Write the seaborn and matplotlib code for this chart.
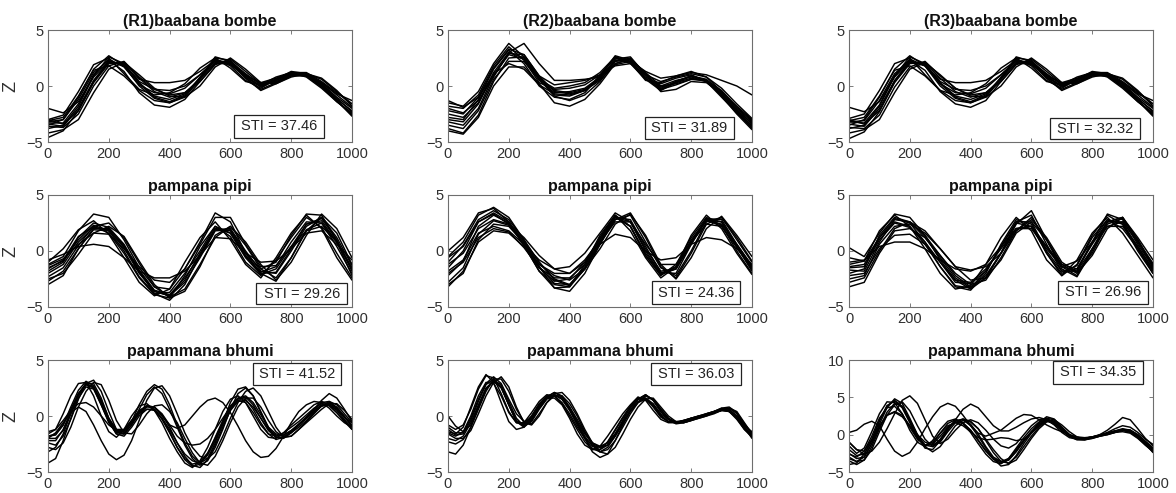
import numpy as np
import pandas as pd
import matplotlib
matplotlib.use("Agg")
import matplotlib.pyplot as plt
from matplotlib.patches import Rectangle
import seaborn as sns

# ---------------- data ----------------
X_COARSE = list(range(0, 1001, 50))   # 21 samples
X_FINE = list(range(0, 1001, 25))     # 41 samples

TITLES = ["(R1)baabana bombe", "(R2)baabana bombe", "(R3)baabana bombe",
          "pampana pipi", "pampana pipi", "pampana pipi",
          "papammana bhumi", "papammana bhumi", "papammana bhumi"]
STI_VALUES = [37.46, 31.89, 32.32, 29.26, 24.36, 26.96, 41.52, 36.03, 34.35]
X_TICKS = [0, 200, 400, 600, 800, 1000]
Y_TICKS_STD = [-5, 0, 5]
Y_TICKS_LAST = [-5, 0, 5, 10]

R1_BAABANA = [
    [-3.3,-3.3,-1.6,1.0,2.4,1.7,0.1,-0.6,-0.7,-0.2,1.0,2.3,2.0,0.8,0.0,0.5,1.1,1.0,0.2,-1.0,-2.0],
    [-3.0,-2.6,-0.5,1.9,2.5,1.1,-0.3,-0.8,-0.6,0.2,1.6,2.5,1.6,0.4,0.1,0.8,1.2,0.8,-0.2,-1.4,-2.4],
    [-3.6,-3.7,-2.5,0.0,1.8,2.2,0.8,-0.3,-0.8,-0.6,0.4,1.9,2.4,1.3,0.2,0.3,0.9,1.1,0.6,-0.5,-1.6],
    [-3.2,-3.0,-1.2,1.2,2.3,1.3,-0.6,-1.7,-1.9,-1.2,0.4,2.0,2.0,0.7,-0.4,0.2,0.9,0.9,0.0,-1.3,-2.6],
    [-2.0,-2.4,-1.4,0.8,2.2,1.8,0.6,0.3,0.3,0.5,1.3,2.3,1.9,0.9,0.3,0.7,1.2,1.1,0.3,-0.7,-1.3],
    [-4.6,-4.0,-2.2,0.4,2.1,2.0,0.3,-0.9,-1.2,-0.7,0.7,2.3,2.1,0.8,-0.1,0.5,1.1,1.0,0.1,-1.2,-2.2],
    [-3.8,-3.5,-1.8,0.9,2.6,2.0,0.2,-1.0,-1.4,-0.8,0.7,2.6,2.2,0.7,-0.3,0.3,1.0,0.9,0.0,-1.3,-2.7],
    [-3.4,-3.6,-2.0,0.5,2.2,1.9,0.4,-0.3,-0.4,0.0,1.0,2.2,2.1,1.0,0.2,0.6,1.2,1.2,0.4,-0.6,-1.6],
    [-3.1,-2.8,-0.9,1.4,1.8,0.9,-0.4,-1.3,-1.5,-0.9,0.8,2.4,1.8,0.5,-0.2,0.6,1.1,0.9,-0.1,-1.4,-2.5],
    [-4.2,-3.9,-3.0,-0.6,1.5,2.1,1.0,-0.2,-0.9,-1.0,0.0,1.7,2.5,1.5,0.3,0.2,0.8,1.1,0.7,-0.4,-1.8],
    [-3.5,-3.0,-1.0,1.5,2.7,1.8,0.0,-1.1,-1.5,-1.0,0.6,2.5,2.3,0.9,0.0,0.6,1.3,1.1,0.2,-1.1,-2.3],
    [-3.0,-3.4,-2.2,0.3,2.0,2.1,0.7,-0.5,-1.0,-0.6,0.6,2.1,2.2,1.1,0.1,0.4,1.0,1.0,0.3,-0.8,-1.9],
]

R2_BAABANA = [
    [-2.5,-2.8,-1.5,1.2,3.0,2.5,0.5,-0.6,-0.5,-0.2,0.8,2.3,2.2,0.8,0.0,0.5,0.8,0.4,-0.8,-2.2,-3.3],
    [-1.8,-2.0,-0.8,1.8,3.5,2.3,0.3,-0.3,-0.2,0.1,1.0,2.5,2.0,0.6,0.2,0.7,1.0,0.4,-1.0,-2.4,-3.5],
    [-3.8,-4.2,-2.6,0.4,2.5,2.6,0.8,-0.8,-0.9,-0.4,0.5,2.0,2.4,1.2,0.0,0.2,0.6,0.5,-0.5,-1.8,-3.0],
    [-4.0,-4.3,-2.8,0.0,1.7,1.7,0.2,-1.5,-1.8,-1.2,0.2,2.0,2.4,1.0,-0.5,-0.3,0.4,0.3,-0.7,-2.3,-3.8],
    [-1.5,-1.8,-0.5,2.0,3.8,2.6,0.6,-0.2,0.0,0.3,1.2,2.6,2.1,0.5,0.3,0.9,1.3,0.8,-0.5,-2.0,-3.2],
    [-2.0,-2.4,-1.3,0.8,3.0,3.8,2.0,0.5,0.5,0.6,0.8,1.9,2.2,1.3,0.7,0.9,1.2,1.0,0.5,0.0,-0.8],
    [-3.2,-3.5,-2.0,0.9,2.9,2.8,0.9,-0.5,-0.7,-0.4,0.7,2.2,2.4,1.0,-0.1,0.3,0.7,0.4,-0.7,-2.1,-3.4],
    [-2.8,-3.0,-1.2,1.5,3.2,2.0,0.0,-1.0,-1.2,-0.6,0.9,2.6,2.2,0.6,-0.4,0.3,0.9,0.5,-0.9,-2.5,-3.9],
    [-3.5,-3.8,-2.2,0.6,2.2,2.2,0.6,-0.9,-1.3,-0.8,0.4,2.2,2.5,1.1,-0.3,0.1,0.6,0.5,-0.4,-1.9,-3.1],
    [-2.2,-2.5,-1.0,1.6,3.3,2.8,0.9,0.1,0.3,0.5,1.0,1.8,2.0,1.0,0.4,0.8,1.1,0.8,-0.2,-1.6,-2.9],
    [-1.3,-1.9,-1.0,1.0,2.8,2.4,0.7,-0.4,-0.6,-0.3,0.6,2.4,2.6,1.0,-0.2,0.4,0.9,0.6,-0.6,-2.2,-3.6],
    [-3.0,-3.2,-1.6,1.1,2.0,1.5,0.1,-0.7,-0.8,-0.4,0.9,2.7,2.3,0.7,-0.3,0.4,0.9,0.5,-0.8,-2.4,-3.7],
]

R3_BAABANA = [
    [-3.2,-3.3,-1.7,0.9,2.4,1.8,0.2,-0.6,-0.7,-0.2,1.0,2.3,2.0,0.8,0.0,0.5,1.1,1.0,0.2,-1.0,-2.0],
    [-2.9,-2.5,-0.4,2.0,2.5,1.0,-0.4,-0.8,-0.6,0.2,1.6,2.5,1.6,0.4,0.1,0.8,1.2,0.8,-0.2,-1.4,-2.4],
    [-3.7,-3.8,-2.6,-0.1,1.7,2.2,0.9,-0.2,-0.8,-0.6,0.4,1.9,2.4,1.3,0.2,0.3,0.9,1.1,0.6,-0.5,-1.6],
    [-3.2,-3.1,-1.3,1.1,2.3,1.4,-0.5,-1.6,-1.9,-1.3,0.4,2.0,2.0,0.7,-0.4,0.2,0.9,0.9,0.0,-1.3,-2.6],
    [-1.9,-2.3,-1.4,0.8,2.2,1.8,0.6,0.3,0.3,0.5,1.3,2.3,1.9,0.9,0.3,0.7,1.2,1.1,0.3,-0.7,-1.3],
    [-4.7,-4.1,-2.3,0.4,2.1,2.0,0.3,-0.9,-1.2,-0.7,0.7,2.3,2.1,0.8,-0.1,0.5,1.1,1.0,0.1,-1.2,-2.2],
    [-3.8,-3.5,-1.8,0.9,2.6,2.0,0.2,-1.0,-1.4,-0.8,0.7,2.6,2.2,0.7,-0.3,0.3,1.0,0.9,0.0,-1.3,-2.7],
    [-3.4,-3.6,-2.0,0.5,2.2,1.9,0.4,-0.3,-0.4,0.0,1.0,2.2,2.1,1.0,0.2,0.6,1.2,1.2,0.4,-0.6,-1.6],
    [-3.1,-2.8,-0.9,1.4,1.8,0.9,-0.4,-1.3,-1.5,-0.9,0.8,2.4,1.8,0.5,-0.2,0.6,1.1,0.9,-0.1,-1.4,-2.5],
    [-4.2,-3.9,-3.0,-0.6,1.5,2.1,1.0,-0.2,-0.9,-1.0,0.0,1.7,2.5,1.5,0.3,0.2,0.8,1.1,0.7,-0.4,-1.8],
    [-3.5,-3.0,-1.0,1.5,2.7,1.8,0.0,-1.1,-1.5,-1.0,0.6,2.5,2.3,0.9,0.0,0.6,1.3,1.1,0.2,-1.1,-2.3],
    [-3.0,-3.4,-2.2,0.3,2.0,2.1,0.7,-0.5,-1.0,-0.6,0.6,2.1,2.2,1.1,0.1,0.4,1.0,1.0,0.3,-0.8,-1.9],
]

R1_PAMPANA = [
    [-1.5,-0.9,1.0,2.3,1.8,0.0,-2.3,-3.8,-3.7,-2.0,0.0,2.2,1.6,-0.5,-1.9,-1.4,0.8,2.6,2.5,0.4,-2.0],
    [-1.2,-0.5,1.8,3.3,3.0,1.0,-1.5,-3.2,-3.4,-1.6,0.8,3.4,2.6,-0.2,-1.6,-1.0,1.4,3.3,3.2,0.9,-1.6],
    [-0.8,-0.3,0.4,0.6,0.4,-0.6,-1.8,-2.4,-2.4,-1.8,-0.4,1.2,1.1,-0.2,-1.0,-0.9,0.2,1.6,1.8,0.6,-0.8],
    [-3.0,-2.2,0.2,2.0,2.0,0.5,-1.8,-3.8,-4.4,-3.0,-0.4,2.0,1.8,-0.4,-2.0,-1.9,0.2,2.4,2.9,1.0,-1.8],
    [-2.5,-2.0,-0.3,1.6,2.2,1.3,-0.9,-3.0,-4.2,-3.6,-1.4,1.4,2.2,0.5,-1.6,-2.4,-0.6,1.8,3.0,1.6,-1.2],
    [-1.0,0.2,1.9,2.7,1.5,-0.6,-2.8,-4.0,-3.4,-1.0,1.2,2.6,1.0,-1.2,-2.4,-0.6,1.6,3.2,2.0,-0.6,-2.6],
    [-2.0,-1.2,0.8,2.1,1.9,0.3,-2.0,-3.6,-4.0,-2.6,-0.2,2.0,1.6,-0.6,-2.1,-1.6,0.4,2.4,2.7,0.8,-1.7],
    [-1.8,-1.0,1.2,2.5,2.1,0.6,-1.7,-3.5,-3.9,-2.4,-0.4,1.9,2.0,0.0,-1.8,-2.0,0.0,2.2,3.0,1.2,-1.3],
    [-1.3,-0.7,0.6,1.6,1.5,0.2,-1.4,-2.6,-2.8,-1.6,0.6,3.0,3.0,0.6,-1.4,-1.3,0.4,1.8,2.2,0.8,-1.5],
    [-2.3,-1.5,0.5,2.2,2.5,1.2,-1.1,-3.2,-4.1,-3.4,-1.2,1.2,2.2,0.8,-1.2,-2.6,-1.0,1.4,3.3,2.0,-0.6],
    [-1.6,-0.8,1.3,2.2,1.6,-0.2,-2.4,-3.9,-4.2,-2.2,0.4,2.2,1.3,-1.0,-2.2,-0.8,1.2,3.0,2.1,-0.2,-2.4],
    [-2.7,-1.8,0.2,1.9,1.8,0.4,-1.9,-3.6,-4.0,-2.8,-0.6,1.8,1.9,-0.2,-2.0,-2.7,-0.6,1.9,2.5,0.8,-2.2],
]

R2_PAMPANA = [
    [-1.5,0.0,2.6,3.3,2.4,0.6,-1.5,-2.7,-2.5,-1.0,1.2,3.0,2.2,-0.2,-2.0,-1.4,1.0,2.8,2.2,0.3,-1.6],
    [-0.5,0.8,3.2,3.9,3.0,1.0,-1.4,-3.3,-3.6,-2.0,0.6,3.0,2.8,0.4,-1.9,-2.0,0.6,2.9,2.8,0.6,-1.3],
    [-3.2,-1.8,0.8,1.8,1.6,0.4,-1.2,-2.0,-2.0,-0.8,1.0,2.8,3.2,0.8,-1.5,-2.2,0.0,2.6,3.0,1.0,-1.0],
    [-2.0,-1.0,1.2,2.0,1.7,0.3,-1.5,-2.4,-2.4,-1.2,0.6,1.5,1.2,0.0,-0.8,-0.6,0.6,1.2,1.0,0.2,-1.2],
    [0.0,1.2,3.4,3.8,2.6,0.5,-1.8,-3.3,-3.2,-1.2,1.4,3.2,1.8,-0.6,-2.4,-1.4,1.4,3.2,2.0,-0.2,-2.1],
    [-1.8,-0.8,1.6,2.2,1.8,0.6,-0.8,-1.6,-1.4,-0.2,1.6,3.4,2.6,0.0,-2.0,-1.6,0.8,2.7,2.4,0.6,-1.4],
    [-2.8,-1.5,1.5,2.7,2.3,0.9,-1.0,-2.5,-3.0,-1.6,0.6,2.8,3.4,1.2,-1.4,-2.4,-0.2,2.4,3.0,1.2,-0.9],
    [-1.0,0.5,2.8,3.6,2.8,1.0,-1.0,-2.6,-3.1,-1.6,0.8,3.0,2.6,0.2,-1.8,-1.6,0.6,2.8,2.6,0.5,-1.5],
    [-1.2,-0.2,2.0,2.8,2.4,1.2,-0.4,-1.6,-2.0,-1.0,0.8,2.6,2.6,0.6,-1.2,-1.2,0.8,2.4,2.2,0.4,-1.7],
    [-2.2,-0.9,2.2,3.2,2.5,0.5,-1.8,-3.0,-3.2,-1.6,1.0,3.1,2.2,-0.4,-2.2,-1.2,1.2,3.0,2.3,0.0,-2.0],
    [-3.0,-2.0,1.0,2.4,2.2,0.7,-1.2,-2.2,-2.6,-1.6,0.2,2.4,3.3,1.4,-1.2,-2.5,-0.6,2.0,3.1,1.4,-0.5],
    [-0.6,0.4,2.6,3.4,2.6,0.8,-1.4,-2.9,-3.0,-1.4,1.2,3.2,2.2,-0.4,-2.1,-1.6,0.8,2.9,2.6,0.4,-1.8],
]

R3_PAMPANA = [
    [-1.5,-1.4,1.0,2.5,2.1,0.8,-1.0,-2.8,-2.9,-1.8,0.4,2.5,2.2,-0.2,-2.0,-1.3,1.2,2.8,2.0,0.2,-1.8],
    [0.3,-0.5,1.6,3.3,3.0,1.4,-0.8,-2.6,-3.4,-2.4,-0.2,2.6,3.2,0.6,-1.8,-1.8,0.8,3.3,2.8,0.6,-1.4],
    [-3.2,-2.8,-0.2,1.8,2.0,1.2,-0.4,-2.0,-3.0,-2.6,-0.6,1.8,3.0,1.0,-1.4,-2.2,0.2,2.6,3.0,1.0,-1.2],
    [-1.0,-0.8,0.4,0.8,0.8,0.2,-0.8,-1.6,-1.8,-1.2,0.4,2.0,2.0,0.2,-1.4,-0.9,0.8,2.2,2.2,0.4,-1.6],
    [-2.0,-1.6,1.4,3.0,2.6,1.2,-0.6,-2.4,-3.3,-2.4,-0.2,2.0,2.2,0.4,-1.2,-1.6,0.6,2.6,2.6,0.2,-2.0],
    [-1.2,-0.9,1.8,3.2,2.2,0.2,-2.0,-3.4,-3.1,-1.2,1.2,3.0,1.8,-0.8,-2.2,-0.8,1.6,3.0,1.6,-0.4,-2.4],
    [-2.5,-2.2,0.6,2.2,2.4,1.6,0.2,-1.4,-2.6,-2.4,-0.8,1.6,2.6,1.0,-1.2,-2.0,-0.4,2.0,3.0,1.2,-0.8],
    [-1.7,-1.8,0.8,2.8,2.6,1.4,-0.4,-2.2,-3.2,-2.2,-0.2,2.4,3.6,1.0,-1.6,-2.3,0.0,2.6,3.0,0.8,-1.3],
    [-0.6,-0.9,1.2,2.9,2.5,0.8,-1.4,-3.1,-3.3,-1.8,0.4,2.6,2.6,0.0,-1.8,-1.6,0.8,2.8,2.4,0.4,-1.7],
    [-2.2,-2.0,0.2,1.4,1.5,0.6,-1.0,-2.6,-2.8,-1.6,0.2,2.0,2.2,0.4,-1.4,-1.8,0.2,2.2,2.6,0.8,-1.1],
    [-1.4,-1.2,1.2,2.6,2.2,0.6,-1.4,-3.2,-3.5,-2.0,0.6,2.8,2.4,-0.2,-2.2,-1.2,1.4,3.2,2.4,0.0,-2.0],
    [-2.8,-2.4,0.0,2.0,2.6,1.8,0.2,-1.4,-1.7,-1.4,-0.2,1.8,2.8,1.2,-1.0,-1.9,-0.2,2.4,2.9,1.0,-1.5],
]

R1_PAPAMMANA = [
    [-2.0,-2.0,-1.3,0.2,1.8,2.8,2.5,1.0,-0.6,-1.5,-1.3,-0.4,0.5,0.9,0.6,-0.3,-1.5,-2.8,-3.8,-4.3,-4.1,-3.3,-2.0,-0.6,0.7,1.4,1.2,0.3,-0.8,-1.6,-1.8,-1.5,-1.0,-0.5,0.1,0.7,1.1,0.9,0.3,-0.4,-1.0],
    [-2.4,-2.6,-1.8,-0.3,1.5,2.9,3.2,2.2,0.4,-1.2,-1.6,-0.8,0.6,1.9,2.6,2.0,0.6,-1.0,-2.6,-3.8,-4.4,-4.0,-2.8,-1.2,0.6,2.0,2.5,1.8,0.4,-1.0,-1.9,-2.0,-1.5,-0.8,-0.1,0.6,1.2,1.3,0.7,-0.1,-0.8],
    [-2.0,-1.5,-0.6,0.3,0.8,0.4,-0.8,-2.2,-3.4,-3.9,-3.5,-2.2,-0.4,1.4,2.5,2.7,1.8,0.2,-1.5,-2.8,-3.6,-3.8,-3.2,-1.8,-0.2,1.2,2.2,2.5,1.8,0.4,-1.0,-1.9,-1.8,-1.2,-0.5,0.2,0.9,1.3,1.0,0.2,-0.6],
    [-1.8,-1.6,-0.8,0.6,2.0,2.8,2.6,1.4,-0.2,-1.2,-1.2,-0.4,0.4,0.9,0.8,0.0,-0.8,-1.1,-0.8,0.0,0.8,1.4,1.6,1.2,0.3,-0.9,-2.2,-3.2,-3.7,-3.6,-2.9,-1.8,-0.6,0.4,1.0,1.3,1.2,0.7,0.0,-0.6,-1.0],
    [-1.4,-1.2,-0.4,0.5,1.1,1.2,0.8,0.0,-0.8,-1.3,-1.3,-0.6,0.2,0.6,0.5,-0.2,-1.2,-2.4,-3.4,-4.0,-4.2,-3.5,-2.2,-0.8,0.5,1.3,1.4,0.8,-0.2,-1.2,-1.7,-1.7,-1.3,-0.8,-0.2,0.4,0.9,1.0,0.6,-0.1,-0.6],
    [-4.2,-3.8,-2.2,-0.2,1.6,2.6,2.4,1.0,-0.5,-1.6,-1.8,-1.0,0.0,0.6,0.6,-0.2,-1.4,-2.8,-3.9,-4.5,-4.3,-3.4,-1.9,-0.4,0.9,1.6,1.5,0.6,-0.6,-1.6,-2.1,-1.9,-1.4,-0.8,-0.2,0.4,0.9,1.0,0.5,-0.3,-1.2],
    [-1.6,-1.2,0.2,1.8,2.9,3.0,1.8,0.0,-1.4,-1.9,-1.2,0.0,0.9,1.1,0.5,-0.6,-2.0,-3.2,-4.2,-4.6,-4.0,-2.8,-1.2,0.4,1.5,1.8,1.2,0.0,-1.2,-1.9,-2.0,-1.5,-0.8,-0.2,0.4,1.0,1.3,1.0,0.3,-0.5,-1.2],
    [-2.8,-3.0,-2.4,-1.0,0.8,2.2,3.0,2.8,1.4,-0.4,-1.5,-1.6,-0.8,0.2,0.9,1.0,0.4,-0.6,-2.0,-3.3,-4.2,-4.4,-3.6,-2.2,-0.6,0.8,1.6,1.6,0.8,-0.4,-1.4,-1.9,-1.8,-1.2,-0.6,0.0,0.6,1.1,1.1,0.5,-0.3],
    [-1.8,-1.7,-0.8,0.8,2.3,3.1,2.7,1.2,-0.5,-1.6,-1.6,-0.5,1.0,2.2,2.8,2.4,1.0,-0.8,-2.4,-3.6,-4.2,-3.8,-2.4,-0.6,1.2,2.4,2.6,1.8,0.3,-1.1,-1.9,-1.9,-1.4,-0.8,-0.1,0.6,1.4,2.0,1.6,0.6,-0.5],
    [-3.2,-2.8,-1.6,0.2,1.9,2.9,2.9,1.6,-0.2,-1.4,-1.6,-0.8,0.2,0.8,0.8,0.1,-1.0,-2.4,-3.6,-4.4,-4.6,-3.9,-2.6,-1.0,0.5,1.5,1.7,1.0,-0.2,-1.3,-1.9,-1.9,-1.5,-1.0,-0.4,0.3,0.9,1.2,0.8,0.0,-0.9],
    [-2.2,-2.2,-1.2,0.4,2.0,2.9,2.6,1.2,-0.4,-1.4,-1.4,-0.6,0.3,0.9,0.8,0.2,-0.8,-1.8,-2.4,-2.6,-2.5,-2.0,-1.2,-0.2,0.8,1.6,1.8,1.2,0.1,-1.0,-1.6,-1.7,-1.3,-0.7,-0.1,0.5,1.0,1.1,0.7,-0.1,-0.9],
]

R2_PAPAMMANA = [
    [-1.2,-1.7,-1.6,-0.4,1.3,2.8,3.3,2.6,1.0,-0.4,-0.8,-0.2,0.9,1.7,1.9,1.5,0.6,-0.6,-1.8,-2.7,-3.0,-2.6,-1.6,-0.5,0.5,1.3,1.6,1.1,0.2,-0.3,-0.5,-0.4,-0.2,-0.1,0.1,0.3,0.5,0.4,-0.1,-1.0,-1.7],
    [-0.8,-1.2,-0.8,0.6,2.4,3.6,3.4,2.0,0.4,-0.6,-0.6,0.3,1.3,1.9,1.8,1.1,0.0,-1.2,-2.3,-3.0,-3.0,-2.3,-1.2,-0.1,0.9,1.6,1.6,0.8,-0.1,-0.5,-0.6,-0.4,-0.2,0.0,0.2,0.4,0.6,0.5,0.0,-0.8,-1.5],
    [-1.6,-2.0,-2.0,-1.3,0.2,1.8,3.0,3.5,2.6,0.8,-0.6,-0.8,0.0,1.2,2.0,2.1,1.4,0.2,-1.2,-2.4,-3.2,-3.4,-2.8,-1.6,-0.3,0.8,1.5,1.6,0.8,0.0,-0.5,-0.6,-0.4,-0.2,0.0,0.2,0.5,0.7,0.4,-0.6,-1.6],
    [-3.2,-3.4,-2.6,-1.0,0.8,2.4,3.1,2.6,1.0,-0.5,-1.0,-0.4,0.7,1.6,1.9,1.5,0.5,-0.8,-2.0,-2.9,-3.2,-2.8,-1.8,-0.6,0.5,1.2,1.5,1.0,0.1,-0.5,-0.6,-0.5,-0.2,0.0,0.1,0.3,0.5,0.4,-0.2,-1.1,-1.8],
    [0.0,-0.9,-1.4,-0.8,0.8,2.4,3.2,2.8,1.3,-0.2,-0.9,-0.5,0.6,1.5,1.9,1.6,0.8,-0.3,-1.5,-2.4,-2.8,-2.6,-1.8,-0.7,0.4,1.2,1.8,1.5,0.6,-0.2,-0.6,-0.5,-0.3,-0.1,0.1,0.4,0.7,0.6,0.0,-0.9,-1.4],
    [-1.4,-1.6,-1.0,0.8,2.6,3.7,3.0,1.2,-0.5,-1.2,-1.0,0.0,1.1,1.8,1.8,1.2,0.2,-1.0,-2.0,-2.6,-2.8,-2.4,-1.6,-0.4,0.8,1.5,1.5,0.9,0.0,-0.5,-0.6,-0.5,-0.3,-0.1,0.1,0.3,0.6,0.5,-0.2,-1.2,-1.9],
    [-2.0,-2.2,-1.8,-0.6,1.0,2.5,3.1,2.5,1.0,-0.5,-0.9,-0.3,0.8,1.7,2.1,1.8,0.8,-0.6,-2.0,-3.2,-3.7,-3.4,-2.2,-0.8,0.5,1.5,1.9,1.4,0.4,-0.3,-0.7,-0.6,-0.4,-0.2,0.0,0.3,0.5,0.5,0.0,-1.0,-2.0],
    [-1.0,-1.5,-1.5,-0.2,1.5,2.9,3.5,2.9,1.5,0.2,-0.5,-0.2,0.8,1.7,2.1,1.7,0.7,-0.5,-1.6,-2.4,-2.7,-2.4,-1.3,-0.2,0.7,1.5,1.9,1.4,0.4,-0.3,-0.6,-0.5,-0.3,-0.1,0.2,0.4,0.7,0.8,0.3,-0.7,-1.5],
    [-1.5,-1.8,-1.4,0.0,1.8,3.0,2.9,1.8,0.3,-0.6,-0.7,0.0,1.0,1.6,1.6,1.0,-0.2,-1.6,-2.6,-3.0,-2.7,-1.8,-0.8,0.2,1.0,1.7,1.4,0.5,-0.3,-0.6,-0.6,-0.4,-0.2,0.0,0.2,0.4,0.6,0.4,-0.3,-1.2,-1.8],
    [-2.3,-2.5,-2.1,-1.0,0.6,2.2,3.3,3.3,2.2,0.6,-0.5,-0.7,0.2,1.2,1.8,1.8,1.1,0.0,-1.4,-2.6,-3.2,-3.0,-2.2,-1.0,0.2,1.2,1.8,1.5,0.6,-0.2,-0.6,-0.6,-0.4,-0.1,0.1,0.3,0.6,0.7,0.2,-0.8,-1.6],
]

R3_PAPAMMANA = [
    [-2.0,-2.8,-2.6,-0.8,1.8,3.9,4.5,3.6,1.6,-0.4,-1.5,-1.2,0.2,1.5,2.0,1.6,0.6,-0.8,-2.2,-3.3,-3.8,-3.4,-2.2,-0.8,0.4,1.4,2.0,1.6,0.6,-0.2,-0.6,-0.5,-0.3,-0.1,0.1,0.4,0.6,0.4,-0.3,-1.2,-2.0],
    [-1.0,-2.0,-2.6,-2.2,-1.0,0.8,2.8,4.6,5.2,4.2,2.0,-0.2,-1.2,-0.6,0.6,1.6,2.0,1.6,0.6,-0.6,-1.5,-1.8,-1.2,0.0,1.2,2.0,2.2,1.6,0.6,-0.2,-0.6,-0.5,-0.3,-0.1,0.2,0.5,0.8,0.6,-0.1,-1.0,-1.8],
    [0.3,0.6,1.4,1.8,1.2,-0.6,-2.2,-2.9,-2.4,-1.0,0.8,2.4,3.7,4.2,3.8,2.6,1.2,0.2,-0.2,0.2,0.6,1.4,2.2,2.7,2.6,2.0,1.3,0.8,0.4,0.0,-0.3,-0.4,-0.3,-0.1,0.2,0.5,0.7,0.6,0.0,-0.9,-1.8],
    [-3.2,-3.6,-3.0,-1.2,1.0,2.6,3.0,2.4,1.2,0.0,-1.0,-1.4,-0.8,0.6,2.0,3.4,4.1,3.6,2.4,1.2,0.5,0.5,1.0,1.6,2.1,2.3,2.0,1.4,0.6,-0.1,-0.6,-0.6,-0.4,-0.1,0.3,0.8,1.2,1.0,0.3,-0.6,-1.3],
    [-2.6,-3.0,-2.2,-0.2,2.2,3.6,3.8,2.8,1.0,-0.6,-1.4,-1.0,0.2,1.2,1.6,1.2,0.4,-0.4,-0.7,-0.6,-0.4,-0.5,-0.8,-0.6,0.2,1.2,2.0,1.8,0.8,-0.1,-0.6,-0.6,-0.4,-0.1,0.2,0.4,0.6,0.4,-0.3,-1.2,-2.1],
    [-1.5,-2.5,-1.8,0.4,2.8,4.4,4.3,2.8,0.6,-1.0,-1.6,-0.8,0.7,1.8,2.1,1.5,0.3,-1.2,-2.6,-3.6,-3.9,-3.2,-1.8,-0.4,0.8,1.7,2.0,1.3,0.3,-0.4,-0.6,-0.5,-0.3,0.0,0.2,0.5,0.6,0.3,-0.4,-1.4,-2.2],
    [-3.0,-3.6,-3.4,-2.0,0.4,2.6,4.0,4.4,3.2,1.2,-0.6,-1.6,-1.0,0.4,1.6,2.1,1.8,0.8,-0.6,-2.0,-3.2,-3.9,-3.4,-2.0,-0.5,0.8,1.7,2.0,1.3,0.4,-0.3,-0.6,-0.5,-0.2,0.0,0.3,0.6,0.6,0.0,-0.9,-1.8],
    [-4.0,-3.8,-2.6,-0.8,1.2,2.6,3.1,2.6,1.2,-0.4,-1.4,-1.3,-0.2,1.0,1.7,1.5,0.6,-0.7,-2.1,-3.2,-3.6,-3.2,-2.0,-0.7,0.4,1.2,1.8,1.5,0.6,-0.2,-0.7,-0.7,-0.4,-0.1,0.1,0.3,0.4,0.2,-0.5,-1.4,-2.3],
    [-2.5,-3.2,-3.0,-1.2,1.4,3.6,4.8,4.2,2.2,0.0,-1.4,-1.6,-0.6,0.9,1.9,2.0,1.2,-0.2,-1.8,-3.2,-4.2,-4.0,-2.8,-1.2,0.2,1.4,2.2,2.0,1.0,0.0,-0.5,-0.6,-0.4,-0.2,0.1,0.4,0.7,0.5,-0.2,-1.2,-2.4],
    [-1.0,-2.0,-2.2,-0.6,1.9,3.8,4.6,3.8,1.8,-0.2,-1.8,-2.0,-0.8,0.8,1.8,2.1,1.4,0.1,-1.6,-3.0,-3.6,-3.4,-2.3,-0.9,0.4,1.6,2.4,2.1,1.0,0.0,-0.6,-0.7,-0.5,-0.2,0.0,0.3,0.6,0.5,-0.1,-1.1,-2.0],
    [-3.5,-4.0,-3.4,-1.6,0.8,3.0,4.2,3.8,2.0,0.0,-1.6,-2.3,-1.6,-0.2,1.2,1.9,1.7,0.8,-0.8,-2.4,-3.6,-3.8,-3.0,-1.6,-0.2,1.0,1.9,1.8,0.9,0.0,-0.5,-0.6,-0.4,0.0,0.6,1.4,2.3,2.0,0.8,-0.5,-1.5],
]

PANELS = [R1_BAABANA, R2_BAABANA, R3_BAABANA,
          R1_PAMPANA, R2_PAMPANA, R3_PAMPANA,
          R1_PAPAMMANA, R2_PAPAMMANA, R3_PAPAMMANA]

# ---------------- layout / style ----------------
FIG_W, FIG_H = 1176, 493
COL_LEFT = [48, 448, 849]
AX_W = 304
ROW_TOP = [30, 195, 360]
AX_H = 112
# STI box: (x0, x1, y0, y1) in axes fraction
STI_BOX = [(0.612, 0.907, 0.036, 0.241), (0.647, 0.941, 0.030, 0.226), (0.660, 0.956, 0.030, 0.211),
           (0.685, 0.984, 0.024, 0.215), (0.672, 0.962, 0.024, 0.232), (0.688, 0.984, 0.030, 0.232),
           (0.674, 0.965, 0.778, 0.976), (0.669, 0.964, 0.779, 0.971), (0.671, 0.967, 0.789, 0.988)]

sns.set_theme(style="ticks")
plt.rcParams["font.family"] = ["Liberation Sans", "DejaVu Sans"]
plt.rcParams.update({
    "xtick.direction": "in", "ytick.direction": "in",
    "xtick.top": True, "ytick.right": True,
    "xtick.major.size": 3, "ytick.major.size": 3,
    "xtick.major.width": 0.6, "ytick.major.width": 0.6,
    "xtick.color": "#666666", "ytick.color": "#666666",
    "xtick.labelcolor": "#303030", "ytick.labelcolor": "#303030",
    "xtick.labelsize": 10.5, "ytick.labelsize": 10.5,
    "axes.edgecolor": "#6e6e6e", "axes.linewidth": 0.8,
})

fig = plt.figure(figsize=(FIG_W / 100, FIG_H / 100), dpi=100)
for i in range(9):
    r, c = divmod(i, 3)
    left = COL_LEFT[c] / FIG_W
    bottom = 1 - (ROW_TOP[r] + AX_H) / FIG_H
    ax = fig.add_axes([left, bottom, AX_W / FIG_W, AX_H / FIG_H])
    traces = PANELS[i]
    xs = X_COARSE if len(traces[0]) == len(X_COARSE) else X_FINE
    rows = []
    for k, tr in enumerate(traces):
        for xv, yv in zip(xs, tr):
            rows.append((k, xv, yv))
    df = pd.DataFrame(rows, columns=["trial", "t", "z"])
    sns.lineplot(data=df, x="t", y="z", units="trial", estimator=None,
                 color="black", lw=1.05, ax=ax, legend=False)
    ax.set_xlim(0, 1000)
    if i == 8:
        ax.set_ylim(-5, 10)
        ax.set_yticks(Y_TICKS_LAST)
    else:
        ax.set_ylim(-5, 5)
        ax.set_yticks(Y_TICKS_STD)
    ax.set_xticks(X_TICKS)
    ax.set_xlabel("")
    ax.set_ylabel("Z" if c == 0 else "", fontsize=13, color="#303030", labelpad=5)
    ax.set_title(TITLES[i], fontsize=11.5, fontweight="bold", pad=3, color="#111111")
    for s in ax.spines.values():
        s.set_visible(True)
    x0, x1, y0, y1 = STI_BOX[i]
    ax.add_patch(Rectangle((x0, y0), x1 - x0, y1 - y0, transform=ax.transAxes,
                           facecolor="white", edgecolor="#222222", lw=0.9, zorder=5))
    ax.text((x0 + x1) / 2, (y0 + y1) / 2, f"STI = {STI_VALUES[i]:.2f}", transform=ax.transAxes,
            ha="center", va="center", fontsize=10.5, color="#222222", zorder=6)

fig.savefig("out.png", dpi=100)
